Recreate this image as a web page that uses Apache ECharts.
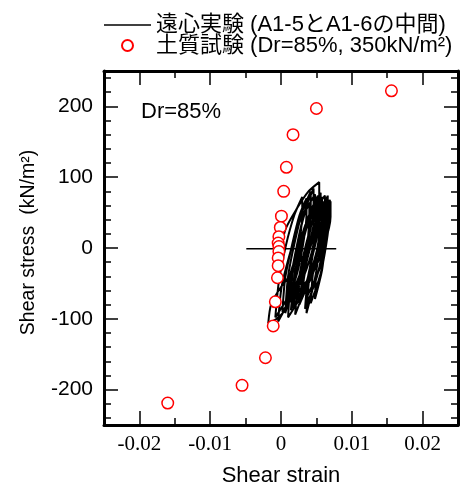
<!DOCTYPE html>
<html>
<head>
<meta charset="utf-8">
<script src="https://cdn.jsdelivr.net/npm/echarts@6/dist/echarts.min.js"></script>
<style>
html,body{margin:0;padding:0;background:#fff;}
#chart{width:460px;height:484px;}
</style>
</head>
<body>
<div id="chart"></div>
<script>
// ---- data ----
var seriesNames = ['遠心実験 (A1-5とA1-6の中間)', '土質試験 (Dr=85%, 350kN/m²)'];
var xTickLabels = [-0.02, -0.01, 0, 0.01, 0.02];
var xMinorTicks = [-0.015, -0.005, 0.005, 0.015];
var yTickLabels = [-200, -100, 0, 100, 200];
var yMinorTicks = [-240, -220, -180, -160, -140, -120, -80, -60, -40, -20, 20, 40, 60, 80, 120, 140, 160, 180, 220, 240];

// horizontal initial trace of the centrifuge record
var centrifugeBase = [[-0.0049, -1], [0.0078, -1]];
// hysteresis loops of the centrifuge record (strain, stress)
var centrifugeLoops = [
  [0, -1],
  [0.00065, 27], [0.0022, 55], [0.0038, 79], [0.0054, 93],
  [0.0054, 63], [0.0043, 13], [0.0020, -30], [0.0000, -55], [-0.0014, -80], [-0.0018, -106],
  [-0.0006, -100], [0.0006, -86], [0.0014, -40], [0.0024, 10], [0.0034, 50], [0.0048, 76],
  [0.0048, 50], [0.0040, 6], [0.0023, -46], [-0.0008, -98],
  [-0.0003, -47], [0.0007, 4], [0.0019, 47], [0.0030, 72],
  [0.0030, 47], [0.0026, 6], [0.0019, -43], [0.0006, -92],
  [0.0010, -40], [0.0020, 11], [0.0031, 54], [0.0042, 80],
  [0.0042, 55], [0.0038, 13], [0.0029, -38], [0.0014, -88],
  [0.0019, -39], [0.0029, 9], [0.0041, 50], [0.0052, 74],
  [0.0052, 49], [0.0047, 7], [0.0038, -44], [0.0020, -94],
  [0.0025, -45], [0.0035, 4], [0.0047, 45], [0.0058, 70],
  [0.0058, 48], [0.0053, 10], [0.0044, -35], [0.0026, -80],
  [0.0031, -36], [0.0041, 9], [0.0053, 46], [0.0064, 68],
  [0.0064, 45], [0.0060, 6], [0.0051, -40], [0.0034, -86],
  [0.0038, -42], [0.0048, 3], [0.0058, 40], [0.0068, 62],
  [0.0068, 41], [0.0064, 6], [0.0056, -36], [0.0042, -78],
  [0.0045, -37], [0.0053, 4], [0.0062, 42], [0.0070, 66],
  [0.0070, 44], [0.0061, 4], [0.0044, -36], [0.0012, -76],
  [0.0017, -33], [0.0027, 9], [0.0039, 45], [0.0050, 66],
  [0.0050, 46], [0.0047, 12], [0.0041, -29], [0.0030, -70],
  [0.0034, -30], [0.0044, 10], [0.0055, 44], [0.0066, 64],
  [0.0066, 44], [0.0063, 10], [0.0058, -31], [0.0048, -72],
  [0.0050, -32], [0.0056, 7], [0.0063, 44], [0.0069, 68],
  [0.0069, 46], [0.0064, 10], [0.0055, -28], [0.0038, -66],
  [0.0041, -26], [0.0047, 13], [0.0053, 46], [0.0060, 66],
  [0.0060, 44], [0.0053, 6], [0.0040, -39], [0.0016, -84],
  [0.0021, -35], [0.0032, 13], [0.0044, 54], [0.0056, 78],
  [0.0056, 53], [0.0048, 11], [0.0032, -40], [0.0002, -90],
  [0.0006, -42], [0.0016, 6], [0.0026, 46], [0.0036, 70],
  [0.0036, 48], [0.0032, 10], [0.0023, -35], [0.0008, -80],
  [0.0014, -34], [0.0030, 12], [0.0046, 51], [0.0062, 74],
  [0.0062, 52], [0.0056, 15], [0.0045, -30], [0.0024, -74],
  [0.0028, -30], [0.0038, 14], [0.0048, 50], [0.0058, 72],
  [0.0058, 47], [0.0055, 6], [0.0048, -43], [0.0036, -92],
  [0.0040, -42], [0.0048, 8], [0.0057, 49], [0.0066, 74],
  [0.0066, 48], [0.0058, 5], [0.0041, -46], [0.0010, -98],
  [0.0014, -43], [0.0024, 11], [0.0035, 57], [0.0046, 84],
  [0.0046, 56], [0.0038, 9], [0.0024, -48], [-0.0004, -104],
  [0.0001, -54], [0.0014, -3], [0.0027, 39], [0.0040, 64],
  [0.0040, 44], [0.0038, 12], [0.0035, -27], [0.0028, -66],
  [0.0032, -28], [0.0042, 10], [0.0052, 41], [0.0062, 60],
  [0.0062, 40], [0.0058, 5]
];
// soil element test points (strain, stress)
var soilTest = [
  [0.0156, 222], [0.0050, 197], [0.0017, 160], [0.00076, 114], [0.00038, 80],
  [0.00006, 45], [-0.0001, 29], [-0.0003, 16], [-0.0004, 7], [-0.0003, 2],
  [-0.0003, -5], [-0.0004, -14], [-0.0004, -25], [-0.0005, -42], [-0.0008, -76],
  [-0.0011, -110], [-0.0022, -155], [-0.0055, -194], [-0.016, -219]
];
var annotation = 'Dr=85%';
var xName = 'Shear strain';
var yName = 'Shear stress  (kN/m²)';

// ---- chart ----
var SANS = "'Liberation Sans', Arial, 'Noto Sans CJK JP', sans-serif";
var SERIF = "'Liberation Serif', 'Times New Roman', serif";
var chart = echarts.init(document.getElementById('chart'), null, {renderer: 'canvas'});

function xAxisDef(pos, major, withLabel) {
  return {
    type: 'value', position: pos, min: -0.025, max: 0.025, gridIndex: 0,
    axisLine: {show: major, onZero: false, lineStyle: {color: '#000', width: 3}},
    axisTick: {show: true, inside: true, length: major ? 14 : 7,
      customValues: major ? xTickLabels : xMinorTicks,
      lineStyle: {color: '#000', width: 1.5}},
    axisLabel: withLabel ? {show: true, customValues: xTickLabels, margin: 9,
      fontFamily: SERIF, fontSize: 21, color: '#000'} : {show: false},
    splitLine: {show: false},
    name: withLabel ? xName : '', nameLocation: 'middle', nameGap: 40,
    nameTextStyle: {fontFamily: SANS, fontSize: 22, color: '#000'}
  };
}
function yAxisDef(pos, major, withLabel) {
  return {
    type: 'value', position: pos, min: -250, max: 250, gridIndex: 0,
    axisLine: {show: major, onZero: false, lineStyle: {color: '#000', width: 3}},
    axisTick: {show: true, inside: true, length: major ? 14 : 7,
      customValues: major ? yTickLabels : yMinorTicks,
      lineStyle: {color: '#000', width: 1.5}},
    axisLabel: withLabel ? {show: true, customValues: yTickLabels, margin: 11,
      fontFamily: SANS, fontSize: 21, color: '#000'} : {show: false},
    splitLine: {show: false},
    name: withLabel ? yName : '', nameLocation: 'middle', nameGap: 66, nameRotate: 90,
    nameTextStyle: {fontFamily: SANS, fontSize: 19.5, color: '#000', padding: [0, 0, 0, 11]}
  };
}

chart.setOption({
  animation: false,
  backgroundColor: '#fff',
  grid: {left: 104, right: 2, top: 71, bottom: 59, containLabel: false, outerBoundsMode: 'none'},
  legend: {
    orient: 'vertical', left: 99, top: 9, itemWidth: 47, itemHeight: 11, itemGap: -1.5,
    data: [
      {name: seriesNames[0], icon: 'path://M0,0H47V1.5H0Z'},
      {name: seriesNames[1]}
    ],
    textStyle: {fontFamily: SANS, fontSize: 22, color: '#000', lineHeight: 20}
  },
  xAxis: [
    xAxisDef('bottom', true, true),
    xAxisDef('bottom', false, false),
    xAxisDef('top', true, false),
    xAxisDef('top', false, false)
  ],
  yAxis: [
    yAxisDef('left', true, true),
    yAxisDef('left', false, false),
    yAxisDef('right', true, false),
    yAxisDef('right', false, false)
  ],
  graphic: [{
    type: 'text', left: 141, top: 101,
    style: {text: annotation, font: '22px ' + SANS, fill: '#000'}
  }],
  series: [
    {
      name: seriesNames[0], type: 'line', xAxisIndex: 0, yAxisIndex: 0,
      data: centrifugeLoops, showSymbol: false, symbol: 'none', smooth: 0.25,
      lineStyle: {color: '#000', width: 2}, itemStyle: {color: '#000'}, z: 2
    },
    {
      name: seriesNames[0], type: 'line', xAxisIndex: 0, yAxisIndex: 0,
      data: centrifugeBase, showSymbol: false, symbol: 'none',
      lineStyle: {color: '#000', width: 1.6}, itemStyle: {color: '#000'}, z: 2
    },
    {
      name: seriesNames[1], type: 'scatter', xAxisIndex: 0, yAxisIndex: 0,
      data: soilTest, symbol: 'circle', symbolSize: 11.5,
      itemStyle: {color: '#fff', borderColor: '#ff0000', borderWidth: 1.5, opacity: 1}, z: 3
    }
  ]
});
</script>
</body>
</html>
